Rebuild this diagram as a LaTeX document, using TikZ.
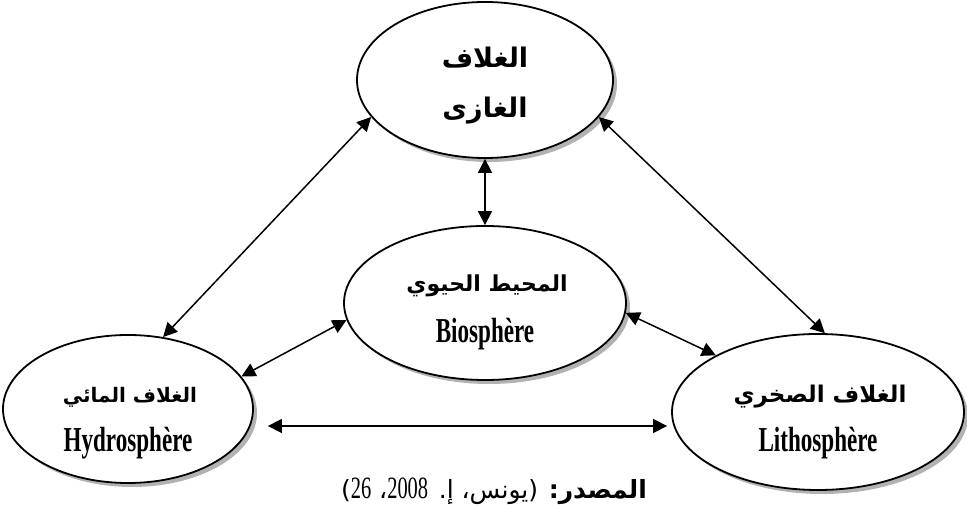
\documentclass[tikz,border=0pt]{standalone}
\usepackage{fontspec}
\usetikzlibrary{shapes.geometric,shadows,arrows.meta}
\TeXXeTstate=1
\newfontfamily\arabicfont[Script=Arabic]{DejaVu Sans}
\newfontfamily\latc[FakeStretch=0.66]{Liberation Serif}
\begin{document}
\begin{tikzpicture}[x=1pt,y=1pt,
  bubble/.style={ellipse, draw, line width=1.8pt, fill=white, inner sep=0pt,
    drop shadow={shadow xshift=4pt, shadow yshift=-4pt, fill=gray!60, opacity=1}},
  arr/.style={line width=1.5pt, {Triangle[length=14pt,width=14pt]}-{Triangle[length=14pt,width=14pt]}},
  ar/.style={font=\arabicfont\bfseries, anchor=base, inner sep=0pt},
  la/.style={font=\latc\bfseries\fontsize{35}{35}\selectfont, anchor=base, inner sep=0pt}]
\useasboundingbox (0,0) rectangle (967,510);
% ellipses
\node[bubble, minimum width=256pt, minimum height=156pt] (top) at (485,430) {};
\node[bubble, minimum width=282pt, minimum height=154pt] (bio) at (485,207) {};
\node[bubble, minimum width=250pt, minimum height=148pt] (hydro) at (128,101) {};
\node[bubble, minimum width=292pt, minimum height=156pt] (litho) at (818,98) {};
% texts
\node[ar] (t1) at (485,442) {\fontsize{27}{27}\selectfont\beginR الغلاف\endR};
\node[ar] (t2) at (485,392) {\fontsize{27}{27}\selectfont\beginR الغازى\endR};
\node[ar] (b1) at (487,218) {\fontsize{22}{22}\selectfont\beginR المحيط الحيوي\endR};
\node[la] (b2) at (485,167) {Biosphère};
\node[ar] (h1) at (130,107) {\fontsize{20}{20}\selectfont\beginR الغلاف المائي\endR};
\node[la] (h2) at (128,58) {Hydrosphère};
\node[ar] (l1) at (820,107) {\fontsize{23}{23}\selectfont\beginR الغلاف الصخري\endR};
\node[la] (l2) at (818,58) {Lithosphère};
% connectors
\draw[arr] (top.198) -- (hydro.64);
\draw[arr] (top.342) -- (litho.85);
\draw[arr] (top.270) -- (bio.90);
\draw[arr] (bio.187) -- (hydro.16);
\draw[arr] (bio.356) -- (litho.151);
\draw[arr] ([xshift=14pt,yshift=-17pt]hydro.east) -- ([xshift=-4pt,yshift=-14pt]litho.west);
% source
\node[anchor=base, inner sep=0pt] (src) at (494,11) {\arabicfont\fontsize{25}{25}\selectfont\beginR\textbf{المصدر:} (يونس، إ. \beginL{\latc\fontsize{31}{31}\selectfont 2008}\endL{}، \beginL{\latc\fontsize{31}{31}\selectfont 26}\endL{})\endR};
\end{tikzpicture}
\end{document}
